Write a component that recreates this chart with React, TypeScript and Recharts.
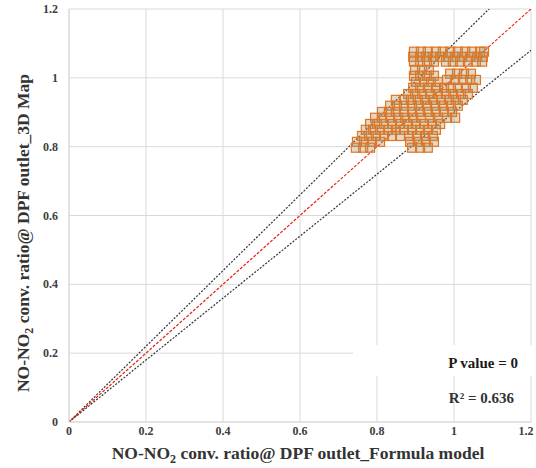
import React from 'react';
import {
  ScatterChart,
  Scatter,
  XAxis,
  YAxis,
  CartesianGrid,
  ReferenceLine,
} from 'recharts';

type Pt = [number, number];

// Axis ticks shared by both axes (ratio 0 – 1.2)
const axisTicks = [0, 0.2, 0.4, 0.6, 0.8, 1, 1.2];

// Formula model (x) vs 3D map (y) — upper plateau of the map
const topBand: Pt[] = [
  [0.896, 1.076], [0.914, 1.076], [0.932, 1.076], [0.953, 1.076], [0.971, 1.076], [0.99, 1.076],
  [1.01, 1.076], [1.029, 1.076], [1.047, 1.076], [1.068, 1.076], [1.078, 1.076],
  [0.894, 1.061], [0.912, 1.061], [0.927, 1.061], [0.945, 1.061], [0.964, 1.061], [0.984, 1.061],
  [1.003, 1.061], [1.021, 1.061], [1.042, 1.061], [1.06, 1.061], [1.075, 1.061],
  [0.896, 1.047], [0.912, 1.047], [0.93, 1.047], [0.948, 1.047], [0.979, 1.047], [0.997, 1.047],
  [1.016, 1.047], [1.036, 1.047], [1.057, 1.047], [1.073, 1.047],
];

// Narrow column below the plateau
const stem: Pt[] = [
  [0.899, 1.023], [0.917, 1.023], [0.935, 1.023],
  [0.896, 1.006], [0.912, 1.006], [0.93, 1.006], [0.948, 1.006],
  [0.901, 0.988], [0.922, 0.988], [0.94, 0.988], [0.958, 0.988],
];

// Small group to the right of the column
const rightGroup: Pt[] = [
  [0.99, 1.012], [1.008, 1.012], [1.026, 1.012], [1.044, 1.012],
  [0.982, 0.994], [1.003, 0.994], [1.023, 0.994], [1.042, 0.994], [1.057, 0.994],
  [0.894, 0.971], [0.912, 0.971], [0.932, 0.971], [0.953, 0.971], [0.974, 0.971],
  [0.992, 0.971], [1.01, 0.971], [1.031, 0.971], [1.049, 0.971],
];

// Main diagonal cloud
const mainCloud: Pt[] = [
  [0.881, 0.953], [0.899, 0.953], [0.917, 0.953], [0.938, 0.953], [0.958, 0.953],
  [0.979, 0.953], [0.997, 0.953], [1.018, 0.953], [1.036, 0.953],
  [0.849, 0.936], [0.87, 0.936], [0.888, 0.936], [0.906, 0.936], [0.925, 0.936],
  [0.945, 0.936], [0.966, 0.936], [0.987, 0.936], [1.005, 0.936], [1.023, 0.936],
  [0.834, 0.919], [0.852, 0.919], [0.87, 0.919], [0.891, 0.919], [0.909, 0.919],
  [0.93, 0.919], [0.951, 0.919], [0.971, 0.919], [0.992, 0.919], [1.01, 0.919],
  [0.813, 0.901], [0.831, 0.901], [0.849, 0.901], [0.87, 0.901], [0.891, 0.901],
  [0.912, 0.901], [0.932, 0.901], [0.953, 0.901], [0.974, 0.901], [0.995, 0.901],
  [0.795, 0.884], [0.813, 0.884], [0.834, 0.884], [0.855, 0.884], [0.873, 0.884], [0.894, 0.884],
  [0.914, 0.884], [0.938, 0.884], [0.958, 0.884], [0.982, 0.884], [1.003, 0.884],
  [0.782, 0.866], [0.8, 0.866], [0.818, 0.866], [0.839, 0.866], [0.86, 0.866],
  [0.881, 0.866], [0.901, 0.866], [0.922, 0.866], [0.943, 0.866], [0.964, 0.866],
  [0.771, 0.849], [0.79, 0.849], [0.808, 0.849], [0.829, 0.849], [0.849, 0.849],
  [0.87, 0.849], [0.891, 0.849], [0.912, 0.849], [0.932, 0.849], [0.953, 0.849],
  [0.761, 0.831], [0.779, 0.831], [0.797, 0.831], [0.818, 0.831], [0.839, 0.831],
  [0.86, 0.831], [0.883, 0.831], [0.904, 0.831], [0.925, 0.831], [0.945, 0.831],
  [0.748, 0.814], [0.766, 0.814], [0.787, 0.814], [0.808, 0.814],
  [0.886, 0.814], [0.906, 0.814], [0.927, 0.814], [0.948, 0.814],
  [0.745, 0.797], [0.764, 0.797], [0.782, 0.797], [0.891, 0.797], [0.912, 0.797], [0.932, 0.797],
];

const points = [...topBand, ...stem, ...rightGroup, ...mainCloud].map(([x, y]) => ({ x, y }));

// Reference lines: 1:1 and ±10 %
const oneToOne = [{ x: 0, y: 0 }, { x: 1.2, y: 1.2 }];
const plusTen = [{ x: 0, y: 0 }, { x: 1.2, y: 1.32 }];
const minusTen = [{ x: 0, y: 0 }, { x: 1.2, y: 1.08 }];

const pValueText = 'P value = 0';
const r2Text = 'R² = 0.636';

const FONT = '"Liberation Serif", "Times New Roman", serif';

const SquareMarker = (props: any) => {
  const { cx, cy } = props;
  return (
    <rect
      x={cx - 4.5}
      y={cy - 4.5}
      width={9}
      height={9}
      fill="#A88F5C"
      fillOpacity={0.35}
      stroke="#E27524"
      strokeWidth={1.2}
    />
  );
};

const XTick = (props: any) => {
  const { x, y, payload } = props;
  return (
    <text x={x} y={y + 11} textAnchor="middle" fontFamily={FONT} fontSize={12} fontWeight={700} fill="#404040">
      {String(payload.value)}
    </text>
  );
};

const YTick = (props: any) => {
  const { x, y, payload } = props;
  return (
    <text x={x} y={y + 4} textAnchor="end" fontFamily={FONT} fontSize={12} fontWeight={700} fill="#404040">
      {String(payload.value)}
    </text>
  );
};

export default function App() {
  return (
    <div
      style={{
        position: 'absolute',
        left: 0,
        top: 0,
        width: 536,
        height: 468,
        background: '#fff',
        fontFamily: FONT,
      }}
    >
      <ScatterChart width={536} height={468} margin={{ top: 9, right: 5, bottom: 0, left: 0 }}>
        <CartesianGrid stroke="#d9d9d9" strokeWidth={1} />
        <XAxis
          type="number"
          dataKey="x"
          domain={[0, 1.2]}
          ticks={axisTicks}
          height={46}
          tickLine={false}
          tickSize={0}
          tickMargin={2}
          axisLine={{ stroke: '#d9d9d9' }}
          tick={<XTick />}
          allowDataOverflow
        />
        <YAxis
          type="number"
          dataKey="y"
          domain={[0, 1.2]}
          ticks={axisTicks}
          width={69}
          tickLine={false}
          tickSize={0}
          tickMargin={11}
          axisLine={{ stroke: '#d9d9d9' }}
          tick={<YTick />}
          allowDataOverflow
        />
        <Scatter data={points} shape={SquareMarker} isAnimationActive={false} />
        <ReferenceLine segment={plusTen} stroke="#333" strokeWidth={1.2} strokeDasharray="2 1.5" ifOverflow="hidden" />
        <ReferenceLine segment={minusTen} stroke="#333" strokeWidth={1.2} strokeDasharray="2 1.5" ifOverflow="hidden" />
        <ReferenceLine segment={oneToOne} stroke="#E8281E" strokeWidth={1.2} strokeDasharray="3 1.5" ifOverflow="hidden" />
      </ScatterChart>
      <svg
        width={536}
        height={468}
        style={{ position: 'absolute', left: 0, top: 0, pointerEvents: 'none' }}
      >
        <rect x={353} y={345} width={183} height={31} fill="#fff" />
        <text x={518} y={368} textAnchor="end" fontFamily={FONT} fontSize={15} fontWeight={700} fill="#1a1a1a">
          {pValueText}
        </text>
        <text x={514} y={403} textAnchor="end" fontFamily={FONT} fontSize={15} fontWeight={700} fill="#333">
          {r2Text}
        </text>
        <text x={298} y={459} textAnchor="middle" fontFamily={FONT} fontSize={17.5} fontWeight={700} fill="#333">
          NO-NO<tspan fontSize={12} dy={4}>2</tspan>
          <tspan dy={-4}> conv. ratio@ DPF outlet_Formula model</tspan>
        </text>
        <text
          transform="translate(29, 233) rotate(-90)"
          textAnchor="middle"
          fontFamily={FONT}
          fontSize={17.5}
          fontWeight={700}
          fill="#333"
        >
          NO-NO<tspan fontSize={12} dy={4}>2</tspan>
          <tspan dy={-4}> conv. ratio@ DPF outlet_3D Map</tspan>
        </text>
      </svg>
    </div>
  );
}
